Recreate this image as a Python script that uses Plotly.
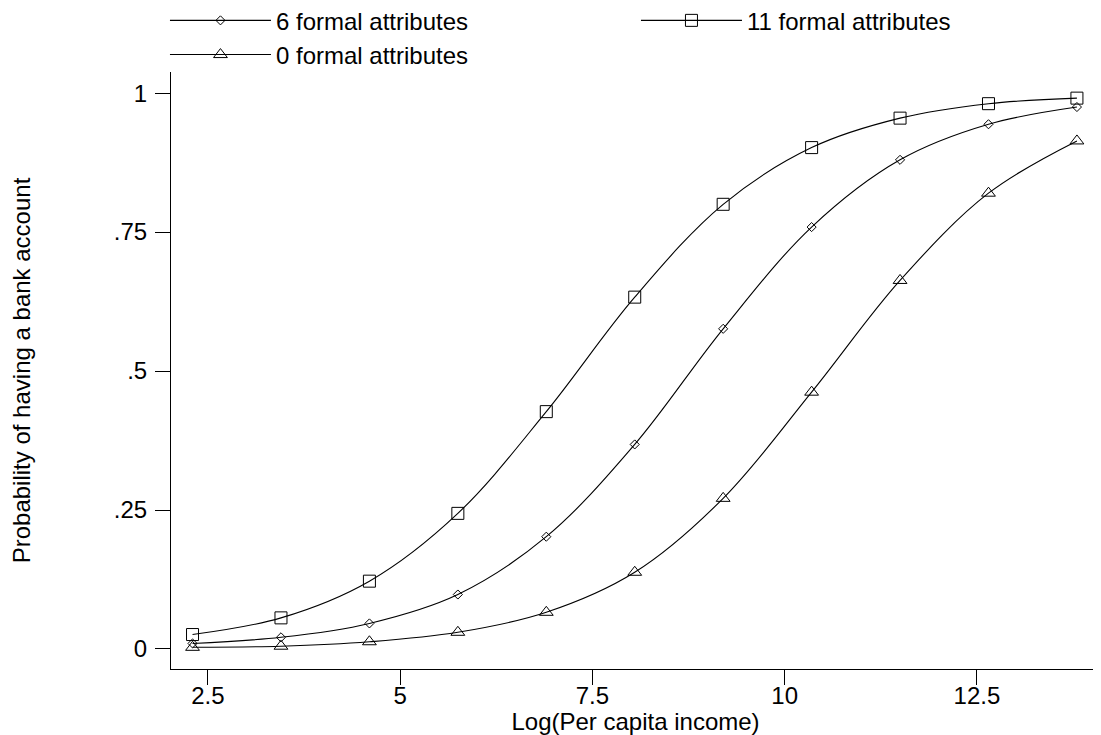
import plotly.graph_objects as go

income_log = [2.30, 3.45, 4.60, 5.75, 6.90, 8.05, 9.20, 10.35, 11.50, 12.65, 13.80]

p_six = [0.010, 0.021, 0.046, 0.098, 0.202, 0.368, 0.576, 0.759, 0.880, 0.944, 0.975]
p_eleven = [0.026, 0.056, 0.122, 0.244, 0.427, 0.633, 0.800, 0.902, 0.955, 0.981, 0.991]
p_zero = [0.003, 0.005, 0.013, 0.030, 0.066, 0.138, 0.271, 0.462, 0.663, 0.820, 0.914]

series_names = ["6 formal attributes", "11 formal attributes", "0 formal attributes"]

x_ticks = [2.5, 5, 7.5, 10, 12.5]
x_ticklabels = ["2.5", "5", "7.5", "10", "12.5"]
y_ticks = [0, 0.25, 0.5, 0.75, 1]
y_ticklabels = ["0", ".25", ".5", ".75", "1"]

FONT = "Liberation Sans, Arial, Helvetica, sans-serif"

fig = go.Figure()
specs = [
    (p_six, series_names[0], "diamond-open", 7),
    (p_eleven, series_names[1], "square-open", 12),
    (p_zero, series_names[2], "triangle-up-open", 12),
]
for vals, name, sym, size in specs:
    fig.add_trace(go.Scatter(
        x=income_log, y=vals, name=name,
        mode="lines+markers",
        line=dict(color="black", width=1.1, shape="spline", smoothing=1.0),
        marker=dict(symbol=sym, size=size, color="black", line=dict(width=1, color="black")),
    ))

fig.update_layout(
    width=1093, height=727,
    margin=dict(l=163, r=1, t=64, b=66, autoexpand=False),
    plot_bgcolor="white", paper_bgcolor="white",
    font=dict(family=FONT, size=24, color="black"),
    showlegend=True,
    legend=dict(
        orientation="h", x=-0.0065, xanchor="left", y=1.1235, yanchor="top",
        entrywidth=355, entrywidthmode="pixels",
        itemwidth=101, font=dict(size=24, family=FONT),
        bgcolor="rgba(0,0,0,0)", tracegroupgap=0,
    ),
    xaxis=dict(
        range=[2.02, 14.1], tickmode="array", tickvals=x_ticks, ticktext=x_ticklabels,
        showgrid=False, zeroline=False, showline=True, linecolor="black", linewidth=1,
        ticks="outside", ticklen=15, tickcolor="black", tickwidth=1,
        tickfont=dict(size=24, family=FONT), ticklabelstandoff=-10,
        title=dict(text="Log(Per capita income)", font=dict(size=24, family=FONT), standoff=0),
    ),
    yaxis=dict(
        range=[-0.036, 1.038], tickmode="array", tickvals=y_ticks, ticktext=y_ticklabels,
        showgrid=False, zeroline=False, showline=True, linecolor="black", linewidth=1,
        ticks="outside", ticklen=15, tickcolor="black", tickwidth=1,
        tickfont=dict(size=24, family=FONT), ticklabelstandoff=3,
        title=dict(text="Probability of having a bank account", font=dict(size=24, family=FONT), standoff=89),
    ),
)

fig.write_html("out.html")
